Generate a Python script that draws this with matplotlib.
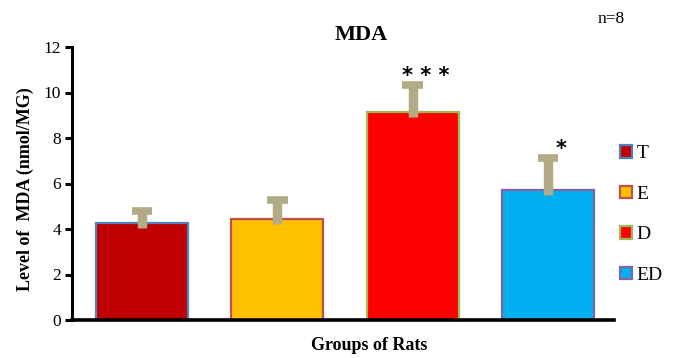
import numpy as np
import matplotlib
matplotlib.use("Agg")
import matplotlib.pyplot as plt

# data
groups = ["T", "E", "D", "ED"]
mda = [4.26, 4.45, 9.15, 5.72]
err = [0.55, 0.82, 1.18, 1.40]
signif = ["", "", "***", "*"]

fill_colors = ["#c00000", "#ffc000", "#ff0000", "#00b0f0"]
edge_colors = ["#4f81bd", "#c0504d", "#9bbb59", "#8064a2"]
err_color = "#b3ab86"

plt.rcParams["font.family"] = ["Liberation Serif", "DejaVu Serif"]

fig = plt.figure(figsize=(6.81, 3.58), dpi=100)
ax = fig.add_axes([72 / 681, 1 - 320 / 358, 542 / 681, 273 / 358])

x = np.arange(len(groups))
vals = np.array(mda)
errs = np.array(err)

bars = ax.bar(x, vals, width=0.68, color=fill_colors, edgecolor=edge_colors,
              linewidth=1.6, zorder=2)

# error bars: thick stem with a flat cap, only upper side
ax.vlines(x, vals - 0.22, vals + errs, colors=err_color, linewidth=6.8, zorder=3)
ax.hlines(vals + errs, x - 0.075, x + 0.075, colors=err_color, linewidth=5.5, zorder=3)

# significance stars
for xi, v, e, s in zip(x, vals, errs, signif):
    if s:
        ax.text(xi + 0.1, v + e - 0.06, " ".join(s) if len(s) > 1 else s,
                ha="center", va="bottom", fontsize=15, fontweight="bold",
                family="DejaVu Sans", color="black")

ax.set_xlim(-0.52, 3.49)
ax.set_ylim(0, 12)
ax.set_yticks(np.arange(0, 13, 2))
ax.set_xticks([])
ax.tick_params(axis="y", direction="out", length=5, width=2.2, labelsize=12.5, pad=3)
for side in ["top", "right"]:
    ax.spines[side].set_visible(False)
ax.spines["left"].set_linewidth(2.2)
ax.spines["bottom"].set_linewidth(2.6)

ax.set_ylabel("Level of  MDA (nmol/MG)", fontsize=13, fontweight="bold")
ax.yaxis.set_label_coords(-0.071, 0.48)
fig.text(369 / 681, 1 - 346 / 358, "Groups of Rats", ha="center", va="center",
         fontsize=13, fontweight="bold")
fig.text(361 / 681, 1 - 35 / 358, "MDA", ha="center", va="center",
         fontsize=16, fontweight="bold")
fig.text(611 / 681, 1 - 19 / 358, "n=8", ha="center", va="center", fontsize=12.5)

handles = [plt.Rectangle((0, 0), 1, 1, facecolor=f, edgecolor=e, linewidth=1.6)
           for f, e in zip(fill_colors, edge_colors)]
fig.legend(handles, groups, loc="center left", bbox_to_anchor=(620 / 681, 1 - 214.5 / 358),
           frameon=False, fontsize=14, handlelength=0.6, handleheight=0.6,
           handletextpad=0.25, labelspacing=1.2, borderpad=0, borderaxespad=0)

fig.savefig("out.png", dpi=100)
